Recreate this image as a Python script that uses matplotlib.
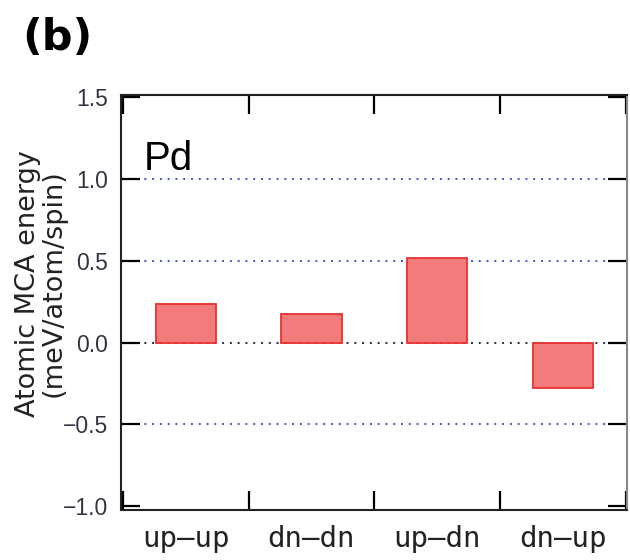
import matplotlib.pyplot as plt
import numpy as np

labels = ['up\u2013up', 'dn\u2013dn', 'up\u2013dn', 'dn\u2013up']
mca = [0.238, 0.177, 0.52, -0.28]
yticks = [-1.0, -0.5, 0.0, 0.5, 1.0, 1.5]
yticklabels = ['\u22121.0', '\u22120.5', '0.0', '0.5', '1.0', '1.5']

x = np.arange(len(labels)) + 0.5

fig = plt.figure(figsize=(6.3, 5.6), dpi=100)
ax = fig.add_axes([0.192, 0.089, 0.803, 0.741])

for y in [-0.5, 0.5, 1.0]:
    ax.axhline(y, color='#4455cc', ls=(0, (1, 3)), lw=1.4, zorder=1)
ax.axhline(0, color='#2a2a44', ls=(0, (1, 3)), lw=1.4, zorder=1)

ax.bar(x, mca, 0.48, color='#f27b7b', edgecolor='#e8302f', lw=1.3, zorder=2)

ax.set_xlim(-0.015, 4.01)
ax.set_ylim(-1.024, 1.512)
ax.set_yticks(yticks)
ax.set_yticklabels(yticklabels, fontsize=16.5, family='Liberation Sans', color='#333344')
ax.set_xticks(np.arange(5))
ax.set_xticklabels([])
ax.set_xticks(x, minor=True)
ax.set_xticklabels(labels, minor=True, fontsize=21, family='DejaVu Sans Mono', color='#222222')
ax.tick_params(axis='x', which='minor', length=0, pad=11)
ax.tick_params(axis='x', which='major', direction='in', length=14, width=1.6,
               top=True, bottom=True)
ax.tick_params(axis='y', direction='in', length=14, width=1.6, left=True, right=True, pad=9)
for s in ax.spines.values():
    s.set_linewidth(1.5)
    s.set_color('#222222')
ax.spines['right'].set_color('#888888')

ax.text(0.165, 1.054, 'Pd', fontsize=29, family='Liberation Sans')
ax.set_ylabel('Atomic MCA energy\n(meV/atom/spin)', fontsize=19.5, family='DejaVu Sans',
              linespacing=0.95, color='#222222')
ax.yaxis.set_label_coords(-0.108, 0.547)
fig.text(0.035, 0.91, '(b)', fontsize=31, fontweight='bold', family='DejaVu Sans')

fig.savefig('out.png', dpi=100)
